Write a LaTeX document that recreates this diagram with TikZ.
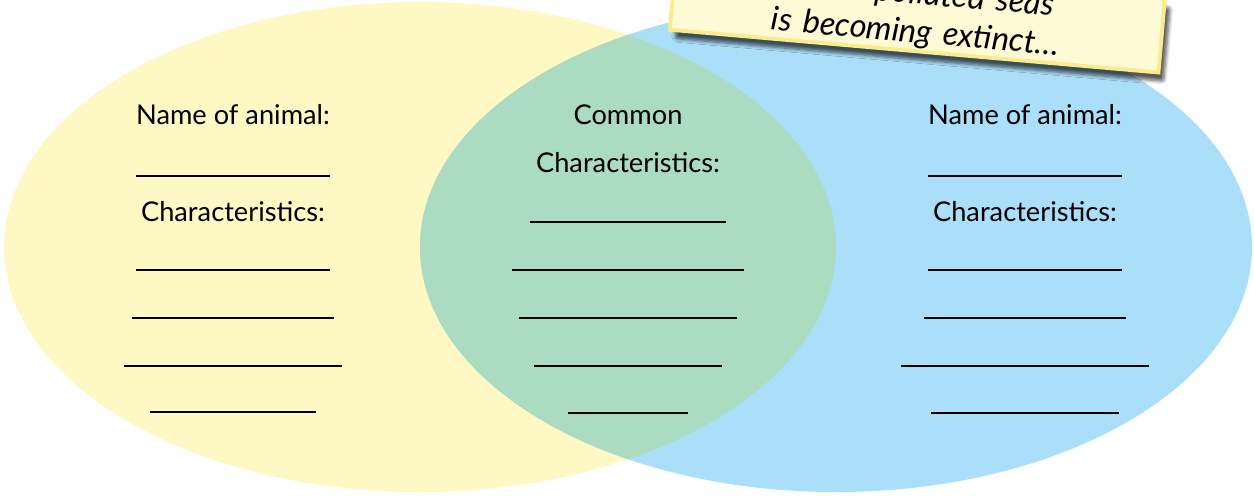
\documentclass[tikz,border=0pt]{standalone}
\usepackage{fontspec}
\setmainfont{Lato}
\newfontfamily\notefont{Lato}
\usepackage{xcolor}
\usetikzlibrary{positioning,shadows,shadows.blur}
\definecolor{setyellow}{RGB}{254,248,196}
\definecolor{setblue}{RGB}{170,222,249}
\definecolor{setgreen}{RGB}{171,219,192}
\definecolor{notefill}{RGB}{255,250,214}
\definecolor{noteedge}{RGB}{249,236,140}
\tikzstyle{note}=[rectangle, draw=noteedge, line width=2.2pt, fill=notefill,
  text width=9.6cm, align=center, inner xsep=3pt, inner ysep=1.5pt,
  font=\notefont\itshape\fontsize{18.5}{22}\selectfont,
  blur shadow={shadow xshift=3pt, shadow yshift=-5pt, shadow blur steps=6,
    shadow blur extra rounding=1.5pt, shadow opacity=65}]

\begin{document}
\begin{tikzpicture}[x=0.02cm,y=0.02cm,
  head/.style={font=\fontsize{15.5}{18}\selectfont,inner sep=0pt},
  blank/.style={inner sep=0pt}]
\useasboundingbox (0,0) rectangle (1254,-495);
\clip (0,0) rectangle (1254,-495);

% the two sets
\fill[setyellow] (420,-247) ellipse [x radius=416, y radius=245];
\fill[setblue] (836,-247) ellipse [x radius=416, y radius=245];
\begin{scope}
  \clip (420,-247) ellipse [x radius=416, y radius=245];
  \fill[setgreen] (836,-247) ellipse [x radius=416, y radius=245];
\end{scope}

% left animal
\node[head] (nameL) at (233,-115) {Name of animal:};
\node[head] (charL) at (233,-212) {Characteristics:};
\foreach \i/\y/\w in {1/176/3.90, 2/270/3.90, 3/318/4.06, 4/366/4.38, 5/412/3.32}
  \node[blank] (L\i) at (233,-\y) {\rule{\w cm}{1.1pt}};

% common part
\node[head] (comM) at (628,-115) {Common};
\node[head] (charM) at (628,-163) {Characteristics:};
\foreach \i/\y/\w in {1/222/3.92, 2/270/4.66, 3/318/4.36, 4/366/3.76, 5/413/2.40}
  \node[blank] (M\i) at (628,-\y) {\rule{\w cm}{1.1pt}};

% right animal
\node[head] (nameR) at (1025,-115) {Name of animal:};
\node[head] (charR) at (1025,-212) {Characteristics:};
\foreach \i/\y/\w in {1/176/3.90, 2/270/3.90, 3/318/4.06, 4/366/4.96, 5/413/3.76}
  \node[blank] (R\i) at (1025,-\y) {\rule{\w cm}{1.1pt}};

% sticky note
\node[note, rotate=-5, anchor=south] (note) at (914,-53)
  {in our polluted seas\\is becoming extinct\ldots};
\end{tikzpicture}
\end{document}
